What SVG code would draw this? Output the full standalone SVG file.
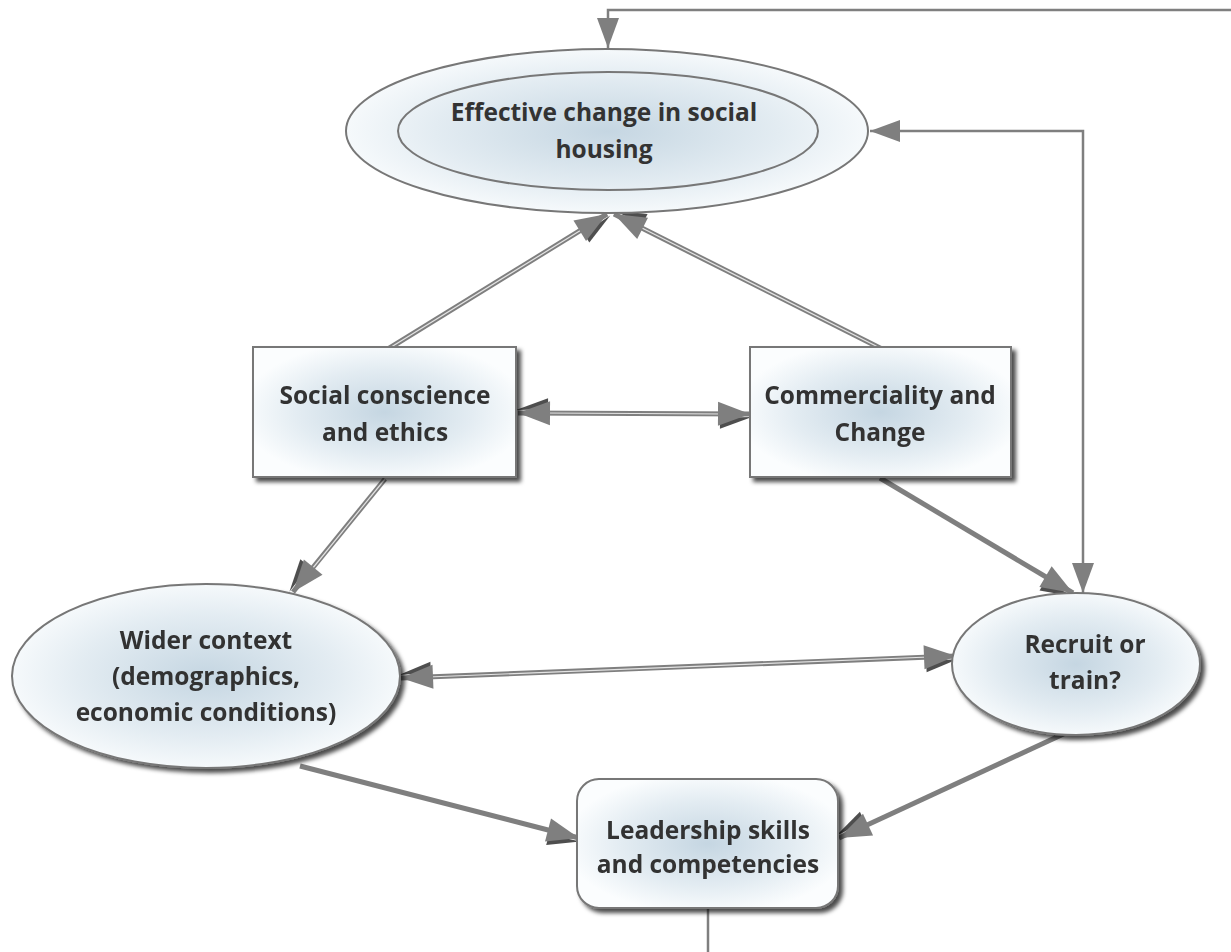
<svg xmlns="http://www.w3.org/2000/svg" width="1231" height="952" viewBox="0 0 1231 952">
<style>
.lbl{font-family:"Open Sans","Liberation Sans",sans-serif;font-weight:bold;font-size:24.5px;fill:#333;text-anchor:middle}
.node{fill:url(#g);stroke:#777;stroke-width:2}
.thin{fill:none;stroke:#7f7f7f;stroke-width:2.5}
.dout{fill:none;stroke:#7f7f7f;stroke-width:5}
.din{fill:none;stroke:#e4e4e4;stroke-width:1.2}
.mk{fill:none;stroke:none}
</style>
<defs>
<radialGradient id="g" cx="50%" cy="50%" r="55%">
<stop offset="0" stop-color="#c5d6e2"/>
<stop offset="0.6" stop-color="#e3ecf2"/>
<stop offset="1" stop-color="#fbfdfe"/>
</radialGradient>
<filter id="sh" x="-10%" y="-10%" width="125%" height="130%">
<feDropShadow dx="4" dy="4" stdDeviation="2" flood-color="#000" flood-opacity="0.7"/>
</filter>
<marker id="a" markerUnits="userSpaceOnUse" markerWidth="34" markerHeight="28" refX="32" refY="12" orient="auto-start-reverse" overflow="visible">
<path d="M2,16 L34,15 L2,27 z" fill="#222" opacity="0.8"/>
<path d="M0,0 L32,12 L0,24 z" fill="#7f7f7f"/>
</marker>
<marker id="t" markerUnits="userSpaceOnUse" markerWidth="34" markerHeight="28" refX="30" refY="11" orient="auto-start-reverse" overflow="visible">
<path d="M0,0 L30,11 L0,22 z" fill="#7f7f7f"/>
</marker>
</defs>

<g id="connectors">
<path class="thin" d="M1231,10 H608 V48" marker-end="url(#t)"/>
<path class="thin" d="M870,131 H1083 V593" marker-start="url(#t)" marker-end="url(#t)"/>
<path class="thin" d="M708,908 V952"/>

<path class="dout" d="M388,349 L607,214"/>
<path class="din" d="M388,349 L586,227"/>
<path class="mk" d="M388,349 L607,214" marker-end="url(#a)"/>

<path class="dout" d="M882,349 L614,214"/>
<path class="din" d="M882,349 L636,225"/>
<path class="mk" d="M882,349 L614,214" marker-end="url(#a)"/>

<path class="dout" d="M518,413 L750,414"/>
<path class="din" d="M544,413 L724,414"/>
<path class="mk" d="M518,413 L750,414" marker-start="url(#a)" marker-end="url(#a)"/>

<path class="dout" d="M385,479 L293,592"/>
<path class="din" d="M385,479 L308,574"/>
<path class="mk" d="M385,479 L293,592" marker-end="url(#a)"/>

<path class="dout" d="M880,478 L1073,593"/>
<path class="mk" d="M880,478 L1073,593" marker-end="url(#a)"/>

<path class="dout" d="M401,678 L956,656"/>
<path class="din" d="M428,677 L929,657"/>
<path class="mk" d="M401,678 L956,656" marker-start="url(#a)" marker-end="url(#a)"/>

<path class="dout" d="M300,766 L579,838"/>
<path class="mk" d="M300,766 L579,838" marker-end="url(#a)"/>

<path class="dout" d="M1085,724 L839,838"/>
<path class="mk" d="M1085,724 L839,838" marker-end="url(#a)"/>
</g>

<g id="effective">
<ellipse cx="607" cy="131" rx="261" ry="82" fill="url(#g)" stroke="#777" stroke-width="2"/>
<ellipse cx="608" cy="131" rx="210" ry="59" fill="none" stroke="#777" stroke-width="2"/>
<text class="lbl" x="604" y="121">Effective change in social</text>
<text class="lbl" x="604" y="158">housing</text>
</g>

<g id="social" filter="url(#sh)">
<rect class="node" x="253" y="347" width="263" height="130"/>
<text class="lbl" x="385" y="404">Social conscience</text>
<text class="lbl" x="385" y="441">and ethics</text>
</g>

<g id="commerciality" filter="url(#sh)">
<rect class="node" x="750" y="347" width="261" height="130"/>
<text class="lbl" x="880" y="404">Commerciality and</text>
<text class="lbl" x="880" y="441">Change</text>
</g>

<g id="wider" filter="url(#sh)">
<ellipse class="node" cx="206" cy="676" rx="194" ry="92"/>
<text class="lbl" x="206" y="649">Wider context</text>
<text class="lbl" x="206" y="685">(demographics,</text>
<text class="lbl" x="206" y="721">economic conditions)</text>
</g>

<g id="recruit" filter="url(#sh)">
<ellipse class="node" cx="1076" cy="664" rx="124" ry="71"/>
<text class="lbl" x="1085" y="653">Recruit or</text>
<text class="lbl" x="1085" y="689">train?</text>
</g>

<g id="leadership" filter="url(#sh)">
<rect class="node" x="577" y="779" width="261" height="129" rx="22" ry="22"/>
<text class="lbl" x="708" y="839">Leadership skills</text>
<text class="lbl" x="708" y="873">and competencies</text>
</g>
</svg>
